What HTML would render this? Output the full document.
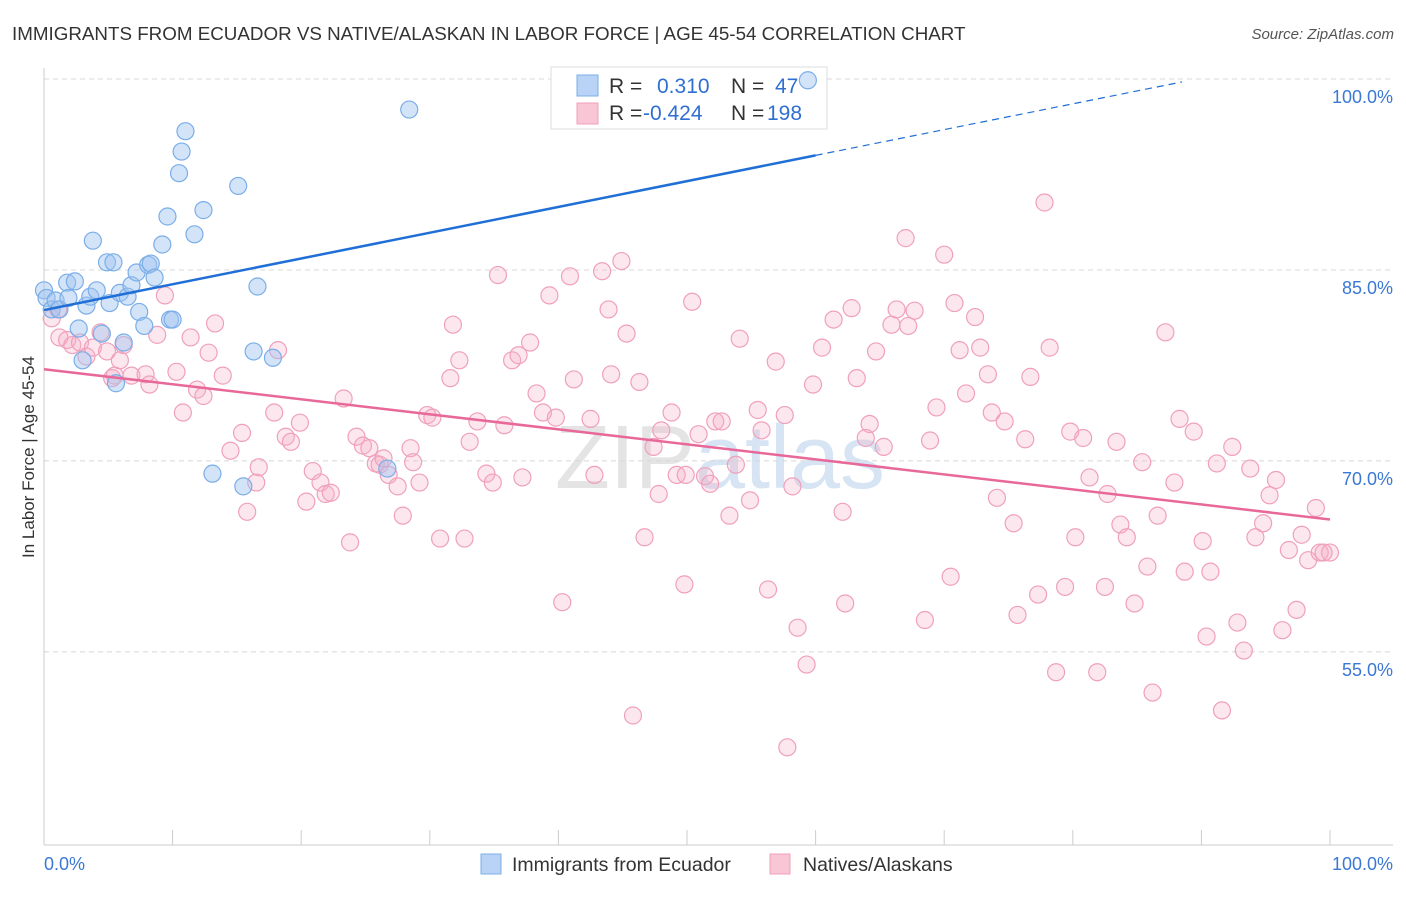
<!DOCTYPE html>
<html><head><meta charset="utf-8">
<style>
body{margin:0;background:#fff;font-family:"Liberation Sans",sans-serif;}
svg text{font-family:"Liberation Sans",sans-serif;}
</style></head>
<body>
<svg id="chart" width="1406" height="892" viewBox="0 0 1406 892" xmlns="http://www.w3.org/2000/svg">
<text x="12" y="40" font-size="18.8" fill="#333">IMMIGRANTS FROM ECUADOR VS NATIVE/ALASKAN IN LABOR FORCE | AGE 45-54 CORRELATION CHART</text>
<text x="1394" y="39" font-size="15" fill="#555" font-style="italic" text-anchor="end">Source: ZipAtlas.com</text>
<text x="720" y="488" font-size="90" fill="#e4e4e4" text-anchor="middle" font-family="Liberation Serif">ZIP<tspan fill="#d6e4f4" font-family="Liberation Sans">atlas</tspan></text>
<g id="grid"></g>
<g id="axes"></g>
<g>
<rect x="551" y="67" width="276" height="62" fill="#fff" stroke="#ddd"/>
<rect x="577" y="75" width="21" height="21" fill="#b8d3f5" stroke="#7aaee8"/>
<rect x="577" y="103" width="21" height="21" fill="#f9c6d6" stroke="#f0a0bb"/>
<text x="609" y="93" font-size="21" fill="#333">R = <tspan x="657" fill="#2f6fd0">0.310</tspan><tspan x="731" fill="#333">N = </tspan><tspan x="775" fill="#2f6fd0">47</tspan></text>
<text x="609" y="120" font-size="21" fill="#333">R = <tspan x="643" fill="#2f6fd0">-0.424</tspan><tspan x="731" fill="#333">N = </tspan><tspan x="767" fill="#2f6fd0">198</tspan></text>
</g>
<g id="pts"></g>
<g id="lines"></g>
<text transform="translate(34,457) rotate(-90)" font-size="17" fill="#333" text-anchor="middle">In Labor Force | Age 45-54</text>
<g>
<rect x="481" y="854" width="20" height="20" fill="#b8d3f5" stroke="#7aaee8"/>
<text x="512" y="871" font-size="19.5" fill="#333">Immigrants from Ecuador</text>
<rect x="770" y="854" width="20" height="20" fill="#f9c6d6" stroke="#f0a0bb"/>
<text x="803" y="871" font-size="19.5" fill="#333">Natives/Alaskans</text>
</g>
</svg>
<script>
const yTicks=[100,85,70,55];
const yTickLabels=["100.0%","85.0%","70.0%","55.0%"];
const xEndLabels=["0.0%","100.0%"];
const blueX=[0,0.2,0.6,0.9,1.2,1.8,1.9,2.4,2.7,3.0,3.3,3.6,3.8,4.1,4.5,4.9,5.1,5.4,5.6,5.9,6.2,6.5,6.8,7.2,7.4,7.8,8.1,8.3,8.6,9.2,9.6,9.8,10.0,10.5,10.7,11.0,11.7,12.4,13.1,15.1,15.5,16.3,16.6,17.8,26.7,28.4,59.4];
const blueY=[83.4,82.8,81.9,82.6,81.9,84.0,82.8,84.1,80.4,77.9,82.2,82.9,87.3,83.4,80.0,85.6,82.4,85.6,76.1,83.2,79.3,82.9,83.8,84.8,81.7,80.6,85.4,85.5,84.4,87.0,89.2,81.1,81.1,92.6,94.3,95.9,87.8,89.7,69.0,91.6,68.0,78.6,83.7,78.1,69.4,97.6,99.9];
const pinkX=[0.6,1.1,1.2,1.8,2.2,2.8,3.3,3.8,4.4,4.9,5.3,5.5,5.9,6.2,6.8,7.9,8.2,8.8,9.4,10.3,10.8,11.4,11.9,12.4,12.8,13.3,13.9,14.5,15.4,15.8,16.5,16.7,17.9,18.2,18.8,19.2,19.9,20.4,20.9,21.5,21.9,22.3,23.3,23.8,24.3,24.8,25.3,25.8,26.1,26.4,26.8,27.5,27.9,28.5,28.7,29.2,29.8,30.2,30.8,31.6,31.8,32.3,32.7,33.1,33.7,34.4,34.9,35.3,35.8,36.4,36.9,37.2,37.8,38.3,38.8,39.3,39.8,40.3,40.9,41.2,42.5,42.8,43.4,43.9,44.1,44.9,45.3,46.3,46.7,47.4,47.8,48.0,48.8,49.2,49.8,50.4,50.9,51.4,51.8,52.2,52.7,53.3,53.8,54.1,54.9,55.5,55.8,56.3,56.9,57.6,58.2,58.6,59.3,59.8,60.5,61.4,62.1,62.3,62.8,63.2,63.9,64.2,64.7,65.3,65.9,66.3,67.0,67.2,67.7,68.5,68.9,69.4,70.0,70.5,70.8,71.2,71.7,72.4,72.8,73.4,73.7,74.1,74.7,75.4,75.7,76.3,76.7,77.3,77.8,78.2,78.7,79.4,79.8,80.2,80.8,81.3,81.9,82.5,82.7,83.4,83.7,84.2,84.8,85.4,85.8,86.2,86.6,87.2,87.9,88.3,88.7,89.4,90.1,90.4,90.7,91.2,91.6,92.4,92.8,93.3,93.8,94.2,94.8,95.3,95.8,96.3,96.8,97.4,97.8,98.3,98.9,99.2,100,99.5,57.8,45.8,49.9];
const pinkY=[81.2,81.9,79.7,79.5,79.1,79.3,78.2,78.9,80.1,78.6,76.5,76.7,77.9,79.1,76.7,76.8,76.0,79.9,83.0,77.0,73.8,79.7,75.6,75.1,78.5,80.8,76.7,70.8,72.2,66.0,68.3,69.5,73.8,78.7,71.9,71.5,73.0,66.8,69.2,68.3,67.4,67.5,74.9,63.6,71.9,71.2,71.0,69.8,69.7,70.2,68.9,68.0,65.7,71.0,69.9,68.3,73.6,73.4,63.9,76.5,80.7,77.9,63.9,71.5,73.1,69.0,68.3,84.6,72.8,77.9,78.3,68.7,79.3,75.3,73.8,83.0,73.4,58.9,84.5,76.4,73.3,68.9,84.9,81.9,76.8,85.7,80.0,76.2,64.0,71.1,67.4,72.4,73.8,68.9,60.3,82.5,72.1,68.8,68.2,73.1,73.1,65.7,69.7,79.6,66.9,74.0,72.4,59.9,77.8,73.6,68.0,56.9,54.0,76.0,78.9,81.1,66.0,58.8,82.0,76.5,71.8,72.9,78.6,71.1,80.7,81.9,87.5,80.6,81.8,57.5,71.6,74.2,86.2,60.9,82.4,78.7,75.3,81.3,78.9,76.8,73.8,67.1,73.1,65.1,57.9,71.7,76.6,59.5,90.3,78.9,53.4,60.1,72.3,64.0,71.8,68.7,53.4,60.1,67.4,71.5,65.0,64.0,58.8,69.9,61.7,51.8,65.7,80.1,68.3,73.3,61.3,72.3,63.7,56.2,61.3,69.8,50.4,71.1,57.3,55.1,69.4,64.0,65.1,67.3,68.5,56.7,63.0,58.3,64.2,62.2,66.3,62.8,62.8,62.8,47.5,50.0,68.9];
const blueTrend=[81.85,102.1];
const pinkTrend=[77.2,65.4];
const blueSolidEnd=60;

const NS="http://www.w3.org/2000/svg";
const X0=44,X1=1330,YTOP=79,YPER=12.73;
function sx(v){return X0+(X1-X0)*v/100;}
function sy(v){return YTOP+(100-v)*YPER;}
function mk(tag,attrs,parent){const e=document.createElementNS(NS,tag);for(const k in attrs)e.setAttribute(k,attrs[k]);parent.appendChild(e);return e;}
const grid=document.getElementById('grid'),axes=document.getElementById('axes'),pts=document.getElementById('pts'),lines=document.getElementById('lines');
yTicks.forEach((t,i)=>{
  const l=mk('line',{x1:44,x2:1393,y1:sy(t),y2:sy(t),stroke:'#d8d8d8','stroke-dasharray':'5,4'},grid);
  
  
  const tx=mk('text',{x:1393,y:sy(t)+24,'font-size':18,fill:'#3a78d4','text-anchor':'end'},axes);
  tx.textContent=yTickLabels[i];
  
  
});
let a=mk('line',{x1:44,x2:44,y1:68,y2:845,stroke:'#ccc'},axes);


a=mk('line',{x1:44,x2:1393,y1:845,y2:845,stroke:'#ccc'},axes);


for(let i=0;i<=10;i++){
  const t=mk('line',{x1:sx(i*10),x2:sx(i*10),y1:830,y2:845,stroke:'#ccc'},axes);
  
  
}
[[0,'start',44],[100,'end',1393]].forEach((d,i)=>{
  const t=mk('text',{x:d[2],y:870,'font-size':18,fill:'#3a78d4','text-anchor':d[1]},axes);
  t.textContent=xEndLabels[i];
  
  
});
pinkX.forEach((x,i)=>{
  const c=mk('circle',{cx:sx(x),cy:sy(pinkY[i]),r:8.5,fill:'rgba(246,175,200,0.3)',stroke:'#f0a0bb','stroke-width':1.2},pts);
  
  
});
blueX.forEach((x,i)=>{
  const c=mk('circle',{cx:sx(x),cy:sy(blueY[i]),r:8.5,fill:'rgba(160,196,240,0.45)',stroke:'#7aaee8','stroke-width':1.2},pts);
  
  
});
function ty(tr,x){return tr[0]+(tr[1]-tr[0])*x/100;}
let l=mk('line',{x1:sx(0),y1:sy(ty(blueTrend,0)),x2:sx(blueSolidEnd),y2:sy(ty(blueTrend,blueSolidEnd)),stroke:'#1f6fd6','stroke-width':2.5},lines);


const xe=88.5;
l=mk('line',{x1:sx(blueSolidEnd),y1:sy(ty(blueTrend,blueSolidEnd)),x2:sx(xe),y2:sy(ty(blueTrend,xe)),stroke:'#1f6fd6','stroke-width':1.2,'stroke-dasharray':'7,5'},lines);


l=mk('line',{x1:sx(0),y1:sy(pinkTrend[0]),x2:sx(100),y2:sy(pinkTrend[1]),stroke:'#e8689a','stroke-width':2.5},lines);


</script>
</body></html>
